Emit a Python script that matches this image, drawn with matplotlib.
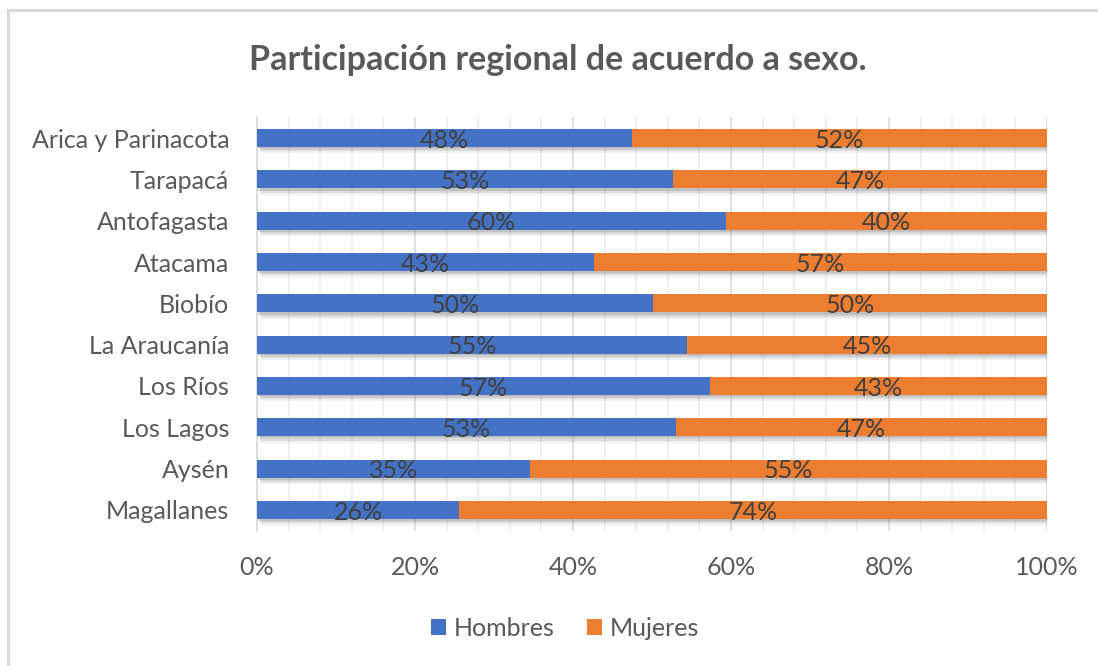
import matplotlib
matplotlib.use("Agg")
import matplotlib.pyplot as plt
import matplotlib.patheffects as pe
from matplotlib.patches import Rectangle, Patch
from matplotlib.ticker import MultipleLocator, PercentFormatter

regiones = ["Arica y Parinacota", "Tarapacá", "Antofagasta", "Atacama", "Biobío",
            "La Araucanía", "Los Ríos", "Los Lagos", "Aysén", "Magallanes"]
hombres = [47.5, 52.7, 59.4, 42.7, 50.1, 54.4, 57.3, 53.0, 34.6, 25.6]
mujeres = [52.5, 47.3, 40.6, 57.3, 49.9, 45.6, 42.7, 47.0, 65.4, 74.4]
etiq_hombres = ["48%", "53%", "60%", "43%", "50%", "55%", "57%", "53%", "35%", "26%"]
etiq_mujeres = ["52%", "47%", "40%", "57%", "50%", "45%", "43%", "47%", "55%", "74%"]

plt.rcParams['font.family'] = ['Lato', 'DejaVu Sans']

BLUE = "#4472C4"
ORANGE = "#ED7D31"
GRAY = "#595959"

fig = plt.figure(figsize=(10.98, 6.66), dpi=100)
fig.patch.set_facecolor("white")
fig.patches.append(Rectangle((8/1098, -0.01), 1.05, 1 - 10/666 + 0.01, transform=fig.transFigure,
                             fill=False, edgecolor="#d9d9d9", linewidth=2.2, zorder=0))

ax = fig.add_axes([257/1098, 1 - 530.6/666, 790/1098, (530.6 - 117.4)/666])
y = list(range(len(regiones)))
shadow = [pe.SimplePatchShadow(offset=(1, -1.5), shadow_rgbFace="#707070", alpha=0.25),
          pe.SimplePatchShadow(offset=(2, -3), shadow_rgbFace="#808080", alpha=0.2),
          pe.SimplePatchShadow(offset=(3, -4.5), shadow_rgbFace="#a0a0a0", alpha=0.15),
          pe.Normal()]
b1 = ax.barh(y, hombres, height=0.44, color=BLUE, zorder=3, path_effects=shadow)
b2 = ax.barh(y, mujeres, left=hombres, height=0.44, color=ORANGE, zorder=3, path_effects=shadow)

for i in y:
    ax.text(hombres[i] / 2, i + 0.05, etiq_hombres[i], ha="center", va="center",
            fontsize=18, color="#404040", zorder=5)
    ax.text(hombres[i] + mujeres[i] / 2, i + 0.05, etiq_mujeres[i], ha="center", va="center",
            fontsize=18, color="#404040", zorder=5)

ax.set_xlim(0, 100)
ax.set_ylim(len(regiones) - 0.5, -0.5)
ax.xaxis.set_major_locator(MultipleLocator(20))
ax.xaxis.set_minor_locator(MultipleLocator(4))
ax.xaxis.set_major_formatter(PercentFormatter(decimals=0))
ax.grid(axis="x", which="minor", color="#ececec", linewidth=1.2, zorder=0)
ax.grid(axis="x", which="major", color="#d9d9d9", linewidth=1.2, zorder=0)
ax.set_axisbelow(True)
ax.set_yticks(y)
ax.set_yticklabels(regiones)
for s in ["top", "right", "bottom"]:
    ax.spines[s].set_visible(False)
ax.spines["left"].set_color("#d9d9d9")
ax.spines["left"].set_linewidth(1.2)
ax.tick_params(axis="both", which="both", length=0, labelsize=18, colors=GRAY)
ax.tick_params(axis="x", pad=18)
ax.tick_params(axis="y", pad=20)

fig.text(558/1098, 1 - 60/666, "Participación regional de acuerdo a sexo.", ha="center", va="center",
         fontsize=24.5, fontweight="bold", color=GRAY)

handles = [Patch(facecolor=BLUE), Patch(facecolor=ORANGE)]
fig.legend(handles, ["Hombres", "Mujeres"], loc="center", bbox_to_anchor=(565/1098, 1 - 628/666),
           ncol=2, frameon=False, fontsize=18, labelcolor=GRAY, handlelength=0.6, handleheight=0.6,
           handletextpad=0.3, columnspacing=1.3)

fig.savefig("out.png", dpi=100, facecolor="white")
